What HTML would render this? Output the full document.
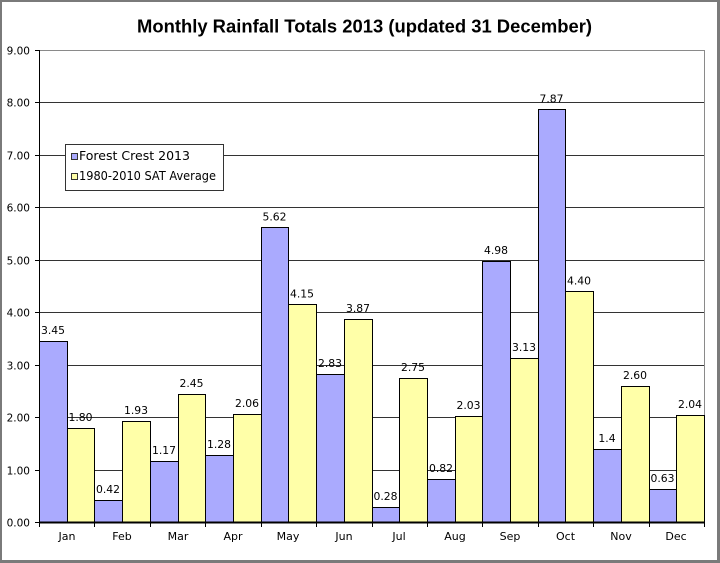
<!DOCTYPE html>
<html><head><meta charset="utf-8"><style>
html,body{margin:0;padding:0;background:#fff;}
svg{display:block;}
text{font-family:"DejaVu Sans","Liberation Sans",sans-serif;fill:#000;}
</style></head><body>
<svg width="720" height="563" viewBox="0 0 720 563" xmlns="http://www.w3.org/2000/svg">
<rect x="0" y="0" width="720" height="563" fill="#fff"/>
<!-- outer border -->
<rect x="0" y="0" width="720" height="2" fill="#7a7a7a"/>
<rect x="0" y="0" width="2" height="563" fill="#7a7a7a"/>
<rect x="717" y="0" width="3" height="563" fill="#7a7a7a"/>
<rect x="0" y="560" width="720" height="3" fill="#7a7a7a"/>

<!-- title -->
<text x="364.5" y="32.5" text-anchor="middle" font-family="Liberation Sans, Arial, sans-serif" style="font-family:'Liberation Sans',Arial,sans-serif" font-size="18" font-weight="bold" textLength="455" lengthAdjust="spacingAndGlyphs">Monthly Rainfall Totals 2013 (updated 31 December)</text>

<g shape-rendering="crispEdges">
<!-- gridlines -->
<g stroke="#333" stroke-width="1">
<line x1="39" y1="102.5" x2="704" y2="102.5"/>
<line x1="39" y1="155.5" x2="704" y2="155.5"/>
<line x1="39" y1="207.5" x2="704" y2="207.5"/>
<line x1="39" y1="260.5" x2="704" y2="260.5"/>
<line x1="39" y1="312.5" x2="704" y2="312.5"/>
<line x1="39" y1="365.5" x2="704" y2="365.5"/>
<line x1="39" y1="417.5" x2="704" y2="417.5"/>
<line x1="39" y1="470.5" x2="704" y2="470.5"/>
</g>
<line x1="39" y1="50.5" x2="704.5" y2="50.5" stroke="#8a8a8a"/>
<line x1="704.5" y1="50" x2="704.5" y2="522" stroke="#8a8a8a"/>

<!-- y ticks -->
<g stroke="#000">
<line x1="35" y1="50.5" x2="39" y2="50.5"/>
<line x1="35" y1="102.5" x2="39" y2="102.5"/>
<line x1="35" y1="155.5" x2="39" y2="155.5"/>
<line x1="35" y1="207.5" x2="39" y2="207.5"/>
<line x1="35" y1="260.5" x2="39" y2="260.5"/>
<line x1="35" y1="312.5" x2="39" y2="312.5"/>
<line x1="35" y1="365.5" x2="39" y2="365.5"/>
<line x1="35" y1="417.5" x2="39" y2="417.5"/>
<line x1="35" y1="470.5" x2="39" y2="470.5"/>
<line x1="35" y1="522.5" x2="39" y2="522.5"/>
</g>

<!-- bars -->
<g stroke="#000" stroke-width="1">
<g fill="#aaaafe">
<rect x="39.5" y="341.5" width="28" height="181"/>
<rect x="94.5" y="500.5" width="28" height="22"/>
<rect x="150.5" y="461.5" width="28" height="61"/>
<rect x="205.5" y="455.5" width="28" height="67"/>
<rect x="261.5" y="227.5" width="27" height="295"/>
<rect x="316.5" y="374.5" width="28" height="148"/>
<rect x="372.5" y="507.5" width="27" height="15"/>
<rect x="427.5" y="479.5" width="28" height="43"/>
<rect x="482.5" y="261.5" width="28" height="261"/>
<rect x="538.5" y="109.5" width="27" height="413"/>
<rect x="593.5" y="449.5" width="28" height="73"/>
<rect x="649.5" y="489.5" width="27" height="33"/>
</g>
<g fill="#ffffa8">
<rect x="67.5" y="428.5" width="27" height="94"/>
<rect x="122.5" y="421.5" width="28" height="101"/>
<rect x="178.5" y="394.5" width="27" height="128"/>
<rect x="233.5" y="414.5" width="28" height="108"/>
<rect x="288.5" y="304.5" width="28" height="218"/>
<rect x="344.5" y="319.5" width="28" height="203"/>
<rect x="399.5" y="378.5" width="28" height="144"/>
<rect x="455.5" y="416.5" width="27" height="106"/>
<rect x="510.5" y="358.5" width="28" height="164"/>
<rect x="565.5" y="291.5" width="28" height="231"/>
<rect x="621.5" y="386.5" width="28" height="136"/>
<rect x="676.5" y="415.5" width="28" height="107"/>
</g>
</g>

<!-- axes -->
<line x1="39.5" y1="50" x2="39.5" y2="523" stroke="#000"/>
<rect x="39" y="521.5" width="666" height="2" fill="#000"/>
<g stroke="#000">
<line x1="39.5" y1="522" x2="39.5" y2="527"/>
<line x1="94.5" y1="522" x2="94.5" y2="527"/>
<line x1="150.5" y1="522" x2="150.5" y2="527"/>
<line x1="205.5" y1="522" x2="205.5" y2="527"/>
<line x1="261.5" y1="522" x2="261.5" y2="527"/>
<line x1="316.5" y1="522" x2="316.5" y2="527"/>
<line x1="372.5" y1="522" x2="372.5" y2="527"/>
<line x1="427.5" y1="522" x2="427.5" y2="527"/>
<line x1="482.5" y1="522" x2="482.5" y2="527"/>
<line x1="538.5" y1="522" x2="538.5" y2="527"/>
<line x1="593.5" y1="522" x2="593.5" y2="527"/>
<line x1="649.5" y1="522" x2="649.5" y2="527"/>
<line x1="704.5" y1="522" x2="704.5" y2="527"/>
</g>

<!-- legend -->
<rect x="65.5" y="144.5" width="158" height="46" fill="#fff" stroke="#333"/>
<rect x="71.5" y="153.5" width="6" height="6" fill="#aaaafe" stroke="#333"/>
<rect x="71.5" y="173.5" width="6" height="6" fill="#ffffa8" stroke="#333"/>
</g>
<text x="79" y="160" font-size="12" textLength="111" lengthAdjust="spacingAndGlyphs">Forest Crest 2013</text>
<text x="79" y="180" font-size="12" textLength="137" lengthAdjust="spacingAndGlyphs">1980-2010 SAT Average</text>

<!-- y labels -->
<g font-size="10.5" text-anchor="end">
<text x="30" y="54.5">9.00</text>
<text x="30" y="106.5">8.00</text>
<text x="30" y="159.5">7.00</text>
<text x="30" y="211.5">6.00</text>
<text x="30" y="264.5">5.00</text>
<text x="30" y="316.5">4.00</text>
<text x="30" y="369.5">3.00</text>
<text x="30" y="421.5">2.00</text>
<text x="30" y="474.5">1.00</text>
<text x="30" y="526.5">0.00</text>
</g>

<!-- x labels -->
<g font-size="11" text-anchor="middle">
<text x="67" y="540">Jan</text>
<text x="122" y="540">Feb</text>
<text x="178" y="540">Mar</text>
<text x="233" y="540">Apr</text>
<text x="288" y="540">May</text>
<text x="344" y="540">Jun</text>
<text x="399" y="540">Jul</text>
<text x="455" y="540">Aug</text>
<text x="510" y="540">Sep</text>
<text x="565.5" y="540">Oct</text>
<text x="621" y="540">Nov</text>
<text x="676" y="540">Dec</text>
</g>

<!-- value labels -->
<g font-size="10.8" text-anchor="middle">
<text x="53" y="334">3.45</text>
<text x="108" y="493">0.42</text>
<text x="164" y="454">1.17</text>
<text x="219" y="448">1.28</text>
<text x="274.5" y="220.5">5.62</text>
<text x="330" y="367">2.83</text>
<text x="385.5" y="500">0.28</text>
<text x="441" y="472">0.82</text>
<text x="496" y="254">4.98</text>
<text x="551.5" y="102.5">7.87</text>
<text x="607" y="442">1.4</text>
<text x="662.5" y="482">0.63</text>

<text x="80.5" y="421">1.80</text>
<text x="136" y="414">1.93</text>
<text x="191.5" y="387">2.45</text>
<text x="247" y="407">2.06</text>
<text x="302" y="297.5">4.15</text>
<text x="358" y="312">3.87</text>
<text x="413" y="371">2.75</text>
<text x="468.5" y="409">2.03</text>
<text x="524" y="351">3.13</text>
<text x="579" y="284.5">4.40</text>
<text x="635" y="379">2.60</text>
<text x="690" y="408">2.04</text>
</g>
</svg>
</body></html>
